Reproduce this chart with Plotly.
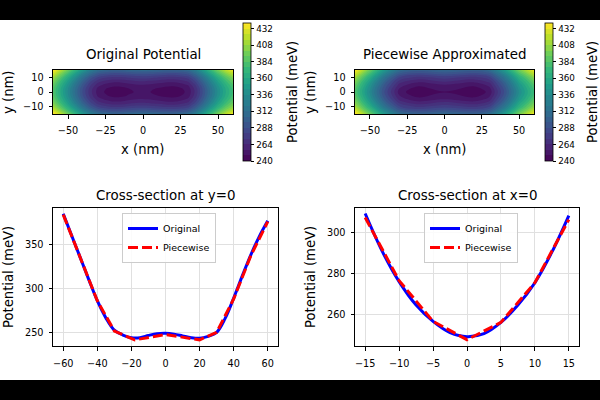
import plotly.graph_objects as go

# ---------------- data ----------------
x_nm = [-60, -55, -50, -45, -40, -35, -30, -25, -20, -15, -10, -5, 0,
        5, 10, 15, 20, 25, 30, 35, 40, 45, 50, 55, 60]
V_orig_y0 = [385, 360, 335, 310, 286, 266.5, 252.5, 247, 244, 244, 246.5, 248.5, 249,
             248, 246, 244, 243.3, 245.5, 250, 266, 289, 314, 338, 359, 377]

y_nm = [-15, -12.5, -10, -7.5, -5, -2.5, 0, 2.5, 5, 7.5, 10, 12.5, 15]
V_orig_x0 = [309.5, 291, 276, 264.5, 256.5, 251, 249, 250.5, 256, 264.5, 275.5, 290.5, 308.5]

x_nodes = [-60, -50, -40, -30, -18, 0, 20, 30, 40, 50, 60]
V_pw_y0 = [384, 334, 286, 251.5, 241.5, 247.5, 241.5, 250, 288, 337, 376]

y_nodes = [-15, -10, -5, 0, 5, 10, 15]
V_pw_x0 = [307.5, 276.5, 256.5, 247.5, 256, 275.5, 306.5]

cbar_ticks = [240, 264, 288, 312, 336, 360, 384, 408, 432]

# 2D tables built from the read cross-sections
V0 = V_orig_x0[y_nm.index(0)]
Z_orig = [[vx + (vy - V0) for vx in V_orig_y0] for vy in V_orig_x0]
P0 = V_pw_x0[y_nodes.index(0)]
Z_pw = [[vx + (vy - P0) for vx in V_pw_y0] for vy in V_pw_x0]

W, H = 600, 400
def px(x):
    return x / W
def py(y):
    return 1 - y / H

FONT = "DejaVu Sans"
TICK = 9.7
LAB = 13.2
TITLE = 13.4
fig = go.Figure()

def cbar(xpix):
    return dict(
        x=px(xpix), xanchor="left", y=py(92), yanchor="middle",
        len=138 / H, lenmode="fraction", thickness=8, thicknessmode="pixels",
        xpad=0, ypad=0, outlinewidth=0.8, outlinecolor="black",
        tickvals=cbar_ticks, ticks="outside", ticklen=3.5, tickwidth=0.8,
        tickcolor="black", tickfont=dict(size=8.8, color="black", family=FONT),
    )

contour_common = dict(
    colorscale="Viridis", zmin=240, zmax=440, autocontour=False,
    contours=dict(start=240, end=440, size=8, coloring="fill", showlines=False),
    line=dict(width=0, smoothing=1.0),
)

fig.add_trace(go.Contour(x=x_nm, y=y_nm, z=Z_orig, xaxis="x", yaxis="y",
                         colorbar=cbar(243), **contour_common))
fig.add_trace(go.Contour(x=x_nodes, y=y_nodes, z=Z_pw, xaxis="x2", yaxis="y2",
                         colorbar=cbar(545), **contour_common))

# cross sections
fig.add_trace(go.Scatter(x=x_nm, y=V_orig_y0, mode="lines", name="Original",
                         line=dict(color="#0000ff", width=3, shape="spline"),
                         xaxis="x3", yaxis="y3", legend="legend"))
fig.add_trace(go.Scatter(x=x_nodes, y=V_pw_y0, mode="lines", name="Piecewise",
                         line=dict(color="#ff0000", width=3, dash="10px,4px"),
                         xaxis="x3", yaxis="y3", legend="legend"))
fig.add_trace(go.Scatter(x=y_nm, y=V_orig_x0, mode="lines", name="Original",
                         line=dict(color="#0000ff", width=3, shape="spline"),
                         xaxis="x4", yaxis="y4", legend="legend2"))
fig.add_trace(go.Scatter(x=y_nodes, y=V_pw_x0, mode="lines", name="Piecewise",
                         line=dict(color="#ff0000", width=3, dash="10px,4px"),
                         xaxis="x4", yaxis="y4", legend="legend2"))

def ax(domain, rng, tickvals, anchor, grid=False, standoff=3):
    return dict(
        domain=domain, range=rng, tickvals=tickvals, anchor=anchor,
        showline=True, mirror=True, linecolor="black", linewidth=1,
        ticks="outside", ticklen=3.5, tickwidth=0.8, tickcolor="black",
        tickfont=dict(size=TICK, color="black", family=FONT),
        ticklabelstandoff=standoff,
        showgrid=grid, gridcolor="#e0e0e0", gridwidth=0.8,
        zeroline=False, automargin=False,
    )

top_y = [py(114), py(70)]
bot_y = [py(346), py(208)]
leg = dict(yanchor="top", xanchor="left",
           bgcolor="rgba(255,255,255,0.85)", bordercolor="#cccccc", borderwidth=1,
           font=dict(size=9.5, family=FONT, color="black"), itemwidth=30,
           tracegroupgap=0)
layout = dict(
    width=W, height=H, margin=dict(l=0, r=0, t=0, b=0),
    template="none",
    paper_bgcolor="black", plot_bgcolor="white",
    font=dict(family=FONT, color="black"),
    xaxis=ax([px(53), px(233)], [-60, 60], [-50, -25, 0, 25, 50], "y", standoff=4),
    yaxis=ax(top_y, [-15, 15], [-10, 0, 10], "x"),
    xaxis2=ax([px(355), px(534)], [-60, 60], [-50, -25, 0, 25, 50], "y2", standoff=4),
    yaxis2=ax(top_y, [-15, 15], [-10, 0, 10], "x2"),
    xaxis3=ax([px(53), px(278)], [-66, 66], [-60, -40, -20, 0, 20, 40, 60], "y3", True, 5),
    yaxis3=ax(bot_y, [234.5, 391.5], [250, 300, 350], "x3", True),
    xaxis4=ax([px(355), px(579)], [-16.5, 16.5], [-15, -10, -5, 0, 5, 10, 15], "y4", True, 5),
    yaxis4=ax(bot_y, [244.4, 312.2], [260, 280, 300], "x4", True),
    legend=dict(x=px(122), y=py(213), **leg),
    legend2=dict(x=px(424), y=py(213), **leg),
    showlegend=True,
    shapes=[dict(type="rect", xref="paper", yref="paper", x0=0, x1=1,
                 y0=py(380), y1=py(20), fillcolor="white", line=dict(width=0),
                 layer="below")],
)

def ann(text, x, y, size, angle=0):
    return dict(text=text, x=px(x), y=py(y), xref="paper", yref="paper",
                showarrow=False, xanchor="center", yanchor="middle",
                textangle=angle, font=dict(size=size, color="black", family=FONT))

layout["annotations"] = [
    ann("Original Potential", 143, 55, TITLE),
    ann("Piecewise Approximated", 444.5, 55, TITLE),
    ann("Cross-section at y=0", 165.5, 195, TITLE),
    ann("Cross-section at x=0", 467, 195, TITLE),
    ann("x (nm)", 143, 149, LAB),
    ann("x (nm)", 444.5, 149, LAB),
    ann("y (nm)", 8, 92, LAB, -90),
    ann("y (nm)", 310, 92, LAB, -90),
    ann("Potential (meV)", 292, 92, LAB, -90),
    ann("Potential (meV)", 592, 92, LAB, -90),
    ann("Potential (meV)", 8, 277, LAB, -90),
    ann("Potential (meV)", 310, 277, LAB, -90),
    ann("x (nm)", 165.5, 387, LAB),
    ann("x (nm)", 467, 387, LAB),
]
fig.update_layout(**layout)
fig.write_html("out.html")
